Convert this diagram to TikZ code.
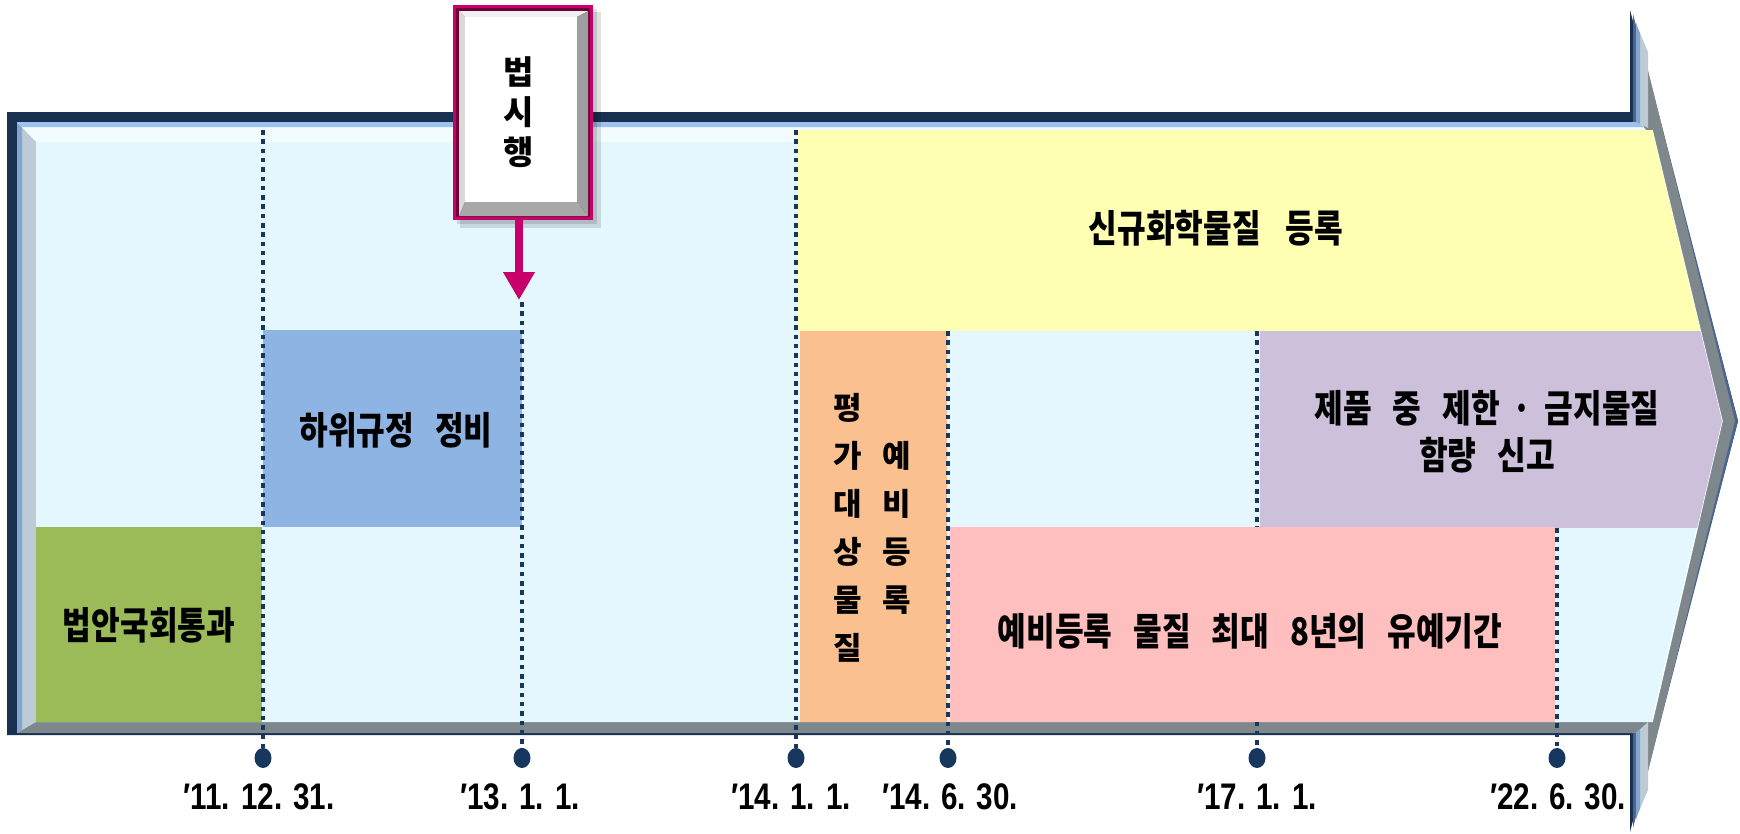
\documentclass[tikz,border=0pt]{standalone}
\usepackage{fontspec}
\setmainfont{Liberation Sans}
\newfontfamily\krfont{Noto Sans CJK KR}[FakeStretch=0.82]
\newfontfamily\krvfont{Noto Sans CJK KR}
\newfontfamily\datefont{Liberation Sans}[FakeStretch=0.8]
\usetikzlibrary{shapes.geometric,arrows.meta}
\definecolor{navy}{HTML}{1A3050}
\definecolor{edgeblue}{HTML}{4A6690}
\definecolor{frameline}{HTML}{9CC2F0}
\definecolor{bevelleft}{HTML}{BDCBD5}
\definecolor{bevelgrey}{HTML}{7D878C}
\definecolor{topface}{HTML}{F2FCFF}
\definecolor{bgfill}{HTML}{E4F7FE}
\definecolor{cgreen}{HTML}{9BBB59}
\definecolor{cblue}{HTML}{8EB4E3}
\definecolor{cyellow}{HTML}{FFFFB3}
\definecolor{corange}{HTML}{FAC090}
\definecolor{cpink}{HTML}{FFBFBF}
\definecolor{cpurple}{HTML}{CCC0DA}
\definecolor{dotnavy}{HTML}{17375E}
\definecolor{lawmag}{HTML}{C8006A}
\definecolor{lawdark}{HTML}{6E0036}
\definecolor{bvl}{HTML}{D9D9D9}
\definecolor{bvt}{HTML}{F0F0F0}
\definecolor{bvr}{HTML}{9E9E9E}
\definecolor{bvb}{HTML}{A8A8A8}
\newcommand\kgap{\hspace{21pt}}
\newcommand\kgapwide{\hspace{25pt}}
\newcommand\kgapsm{\hspace{13pt}}
\begin{document}
\begin{tikzpicture}[x=1pt,y=-1pt,
  ktext/.style={font=\krfont\bfseries\fontsize{38}{47}\selectfont, text=black, inner sep=0pt, align=center},
  kvert/.style={font=\krvfont\bfseries\fontsize{31}{48}\selectfont, text=black, inner sep=0pt, align=center},
  lawtext/.style={font=\krvfont\bfseries\fontsize{33}{40}\selectfont, text=black, inner sep=0pt, align=center, minimum width=140pt, minimum height=215pt},
  dotline/.style={draw=dotnavy, line width=4.5pt, dash pattern=on 4.5pt off 4.8pt},
  dotmark/.style={ellipse, fill=dotnavy, minimum width=17pt, minimum height=20pt, inner sep=0pt},
  datelbl/.style={font=\datefont\bfseries\fontsize{37}{40}\selectfont, text=black, inner sep=0pt},
  lawarrow/.style={draw=lawmag, line width=8pt, -{Triangle[width=30pt,length=28pt]}}
]
\useasboundingbox (0,0) rectangle (1740,833);

% ---- big arrow frame ----
\fill[navy] (7,112) -- (1630,112) -- (1630,10) -- (1738,421) -- (1630,832) -- (1630,735) -- (7,735) -- cycle;
\fill[edgeblue] (1633,14) -- (1738,421) -- (1633,828) -- cycle;
\fill[bevelgrey] (17,122) -- (1636,122) -- (1636,22) -- (1735,421) -- (1636,820) -- (1636,733) -- (17,733) -- cycle;
% left face
\fill[bevelleft] (17,122) -- (36,142) -- (36,722) -- (17,733) -- cycle;
\fill[frameline!80!navy] (17,122) -- (22,127) -- (22,730) -- (17,733) -- cycle;
% top face
\fill[topface] (17,122) -- (1640,122) -- (1655,142) -- (36,142) -- cycle;
\fill[frameline] (17,122) -- (1640,122) -- (1643,127) -- (22,127) -- cycle;
% head vertical strips
\fill[bevelleft] (1636,24) -- (1648,52) -- (1648,128) -- (1636,122) -- cycle;
\fill[frameline!80!navy] (1636,24) -- (1640,33) -- (1640,124) -- (1636,122) -- cycle;
\fill[bevelleft] (1636,733) -- (1648,722) -- (1648,790) -- (1636,818) -- cycle;
\fill[frameline!80!navy] (1636,733) -- (1640,729) -- (1640,809) -- (1636,818) -- cycle;
% inner background
\fill[bgfill] (36,142) -- (1655,142) -- (1722,421) -- (1652,722) -- (36,722) -- cycle;
\draw[white!60!bgfill, line width=1.5pt] (1652,130) -- (1722,421) -- (1652,722);

% ---- coloured periods ----
\begin{scope}
\clip (36,130) -- (1652,130) -- (1722,421) -- (1652,722) -- (36,722) -- cycle;
\fill[cgreen] (36,527) rectangle (262,722);
\fill[cblue] (263,330) rectangle (522,527);
\fill[cyellow] (798,130) rectangle (1800,331);
\fill[corange] (800,331) rectangle (947,722);
\fill[cpurple] (1260,331) rectangle (1800,528);
\end{scope}

% ---- time marks ----
\coordinate (t1) at (263,130);
\coordinate (t2) at (522,302);
\coordinate (t3) at (796,130);
\coordinate (t4) at (948,331);
\coordinate (t5) at (1257,331);
\coordinate (t6) at (1557,528);
\node[dotmark] (d1) at (263,758) {};
\node[dotmark] (d2) at (522,758) {};
\node[dotmark] (d3) at (796,758) {};
\node[dotmark] (d4) at (948,758) {};
\node[dotmark] (d5) at (1257,758) {};
\node[dotmark] (d6) at (1557,758) {};

% line under the pink period
\draw[dotline] (t5) -- (d5.center);
\fill[cpink] (950,527) rectangle (1555,722);

\draw[dotline] (t1) -- (d1.center);
\draw[dotline] (t2) -- (d2.center);
\draw[dotline] (t3) -- (d3.center);
\draw[dotline] (t4) -- (d4.center);
\draw[dotline] (t6) -- (d6.center);

\node[datelbl] (l1) at (259,797) {′11. 12. 31.};
\node[datelbl] (l2) at (520,797) {′13. 1. 1.};
\node[datelbl] (l3) at (791,797) {′14. 1. 1.};
\node[datelbl] (l4) at (950,797) {′14. 6. 30.};
\node[datelbl] (l5) at (1257,797) {′17. 1. 1.};
\node[datelbl] (l6) at (1558,797) {′22. 6. 30.};

% ---- texts ----
\node[ktext] (tgreen) at (149,625) {법안국회통과};
\node[ktext] (tblue) at (396,430) {하위규정\kgap 정비};
\node[ktext] (tyellow) at (1216,228) {신규화학물질\kgapwide 등록};
\node[kvert] (torl) at (848,528) {평\\가\\대\\상\\물\\질};
\node[kvert] (torr) at (897,528) {예\\비\\등\\록};
\node[ktext] (tpink) at (1250,631) {예비등록\kgap 물질\kgap 최대\kgap 8년의\kgap 유예기간};
\node[ktext] (tpurple) at (1487,432) {제품\kgap 중\kgap 제한\kgapsm·\kgapsm 금지물질\\함량\kgap 신고};

% ---- law enforcement box ----
\fill[black,opacity=0.12] (460,12) rectangle (601,228);
\fill[black,opacity=0.12] (457,9) rectangle (597,224);
\fill[lawmag] (453,5) rectangle (593,220);
\fill[lawdark] (456,8) rectangle (590,217);
\fill[bvl] (459,11) -- (465,17) -- (465,202) -- (459,216) -- cycle;
\fill[bvt] (459,11) -- (588,11) -- (577,17) -- (465,17) -- cycle;
\fill[bvr] (588,11) -- (588,216) -- (577,202) -- (577,17) -- cycle;
\fill[bvb] (459,216) -- (588,216) -- (577,202) -- (465,202) -- cycle;
\fill[white] (465,17) rectangle (577,202);
\node[lawtext] (law) at (519,112.5) {법\\시\\행};
\coordinate (lawtip) at (519,300);
\draw[lawarrow] (law.south) -- (lawtip);
\end{tikzpicture}
\end{document}
